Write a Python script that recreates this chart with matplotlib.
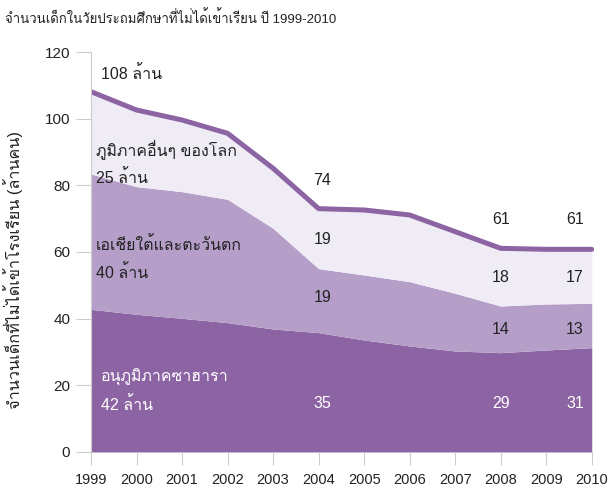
"""Out-of-school children of primary age, 1999-2010 (stacked area)."""
import numpy as np
import matplotlib
matplotlib.use("Agg")
import matplotlib.pyplot as plt
from matplotlib import font_manager as fm
from matplotlib.ft2font import FT2Font

years = [1999, 2000, 2001, 2002, 2003, 2004, 2005, 2006, 2007, 2008, 2009, 2010]
sub_saharan = [42.8, 41.3, 40.1, 38.8, 36.9, 35.8, 33.6, 31.8, 30.3, 29.8, 30.6, 31.3]
south_west_asia = [40.6, 38.3, 38.0, 37.0, 30.2, 19.2, 19.5, 19.3, 17.3, 14.0, 13.8, 13.3]
rest_of_world = [24.7, 23.0, 21.5, 19.8, 18.0, 18.0, 19.5, 20.0, 18.5, 17.3, 16.4, 16.2]

label_years = [2004, 2008, 2010]
label_total = ["74", "61", "61"]
label_rest = ["19", "18", "17"]
label_asia = ["19", "14", "13"]
label_ssa = ["35", "29", "31"]

DARK = "#8c63a3"
MID = "#b59fc9"
LIGHT = "#f0ecf5"
GRID = "#cccccc"
INK = "#222222"


def thai_family():
    """Find an installed font that has Thai glyphs."""
    for f in fm.fontManager.ttflist:
        try:
            cmap = FT2Font(f.fname).get_charmap()
        except Exception:
            continue
        if 0x0E01 in cmap and 0x0E49 in cmap:
            return f.name
    return "DejaVu Sans"


plt.rcParams["font.family"] = ["Liberation Sans", thai_family(), "DejaVu Sans"]

fig = plt.figure(figsize=(6.08, 4.86), dpi=100)
ax = fig.add_axes([0.1497, 0.070, 0.8273, 0.823])

x = np.array(years)
ssa = np.array(sub_saharan)
mid = ssa + np.array(south_west_asia)
total = mid + np.array(rest_of_world)

ax.fill_between(x, 0, ssa, color=DARK, lw=0)
ax.fill_between(x, ssa, mid, color=MID, lw=0)
ax.fill_between(x, mid, total, color=LIGHT, lw=0)
ax.plot(x, total, color=DARK, lw=3.6, solid_capstyle="round", solid_joinstyle="round")

ax.set_xlim(1999, 2010.05)
ax.set_ylim(0, 120)
ax.set_xticks(years)
ax.set_yticks(range(0, 121, 20))
for s in ["top", "right", "bottom"]:
    ax.spines[s].set_visible(False)
ax.spines["left"].set_color(GRID)
ax.tick_params(axis="y", length=11, color=GRID, pad=4, labelsize=11, labelcolor=INK)
ax.tick_params(axis="x", length=9, color=GRID, pad=6, labelsize=10.5, labelcolor=INK)

ax.set_ylabel("จำนวนเด็กที่ไม่ได้เข้าโรงเรียน (ล้านคน)", fontsize=11.7, color=INK, labelpad=8)
ax.yaxis.set_label_coords(-0.135, 0.455)
fig.text(0.008, 0.962, "จำนวนเด็กในวัยประถมศึกษาที่ไม่ได้เข้าเรียน ปี 1999-2010",
         fontsize=9.5, color=INK, va="center")

tk = dict(fontsize=11.5, color=INK, va="center")
ax.text(1999.22, 113.4, "108 ล้าน", **tk)
ax.text(1999.1, 90.6, "ภูมิภาคอื่นๆ ของโลก", **tk)
ax.text(1999.1, 82.2, "25 ล้าน", **tk)
ax.text(1999.1, 62.1, "เอเชียใต้และตะวันตก", **tk)
ax.text(1999.1, 53.7, "40 ล้าน", **tk)
wk = dict(fontsize=11.5, color="white", va="center")
ax.text(1999.22, 22.5, "อนุภูมิภาคซาฮารา", **wk)
ax.text(1999.22, 14.1, "42 ล้าน", **wk)

for yr, t, r, a, s in zip(label_years, label_total, label_rest, label_asia, label_ssa):
    early = yr == 2004
    xp = yr + 0.08 if early else (yr - 0.37 if yr == 2010 else yr)
    ax.text(xp, 81.3 if early else 69.6, t, ha="center", **tk)
    ax.text(xp, 63.6 if early else 52.2, r, ha="center", **tk)
    ax.text(xp, 46.2 if early else 36.6, a, ha="center", **tk)
    ax.text(xp, 14.4, s, ha="center", **wk)

plt.savefig("out.png", dpi=100)
